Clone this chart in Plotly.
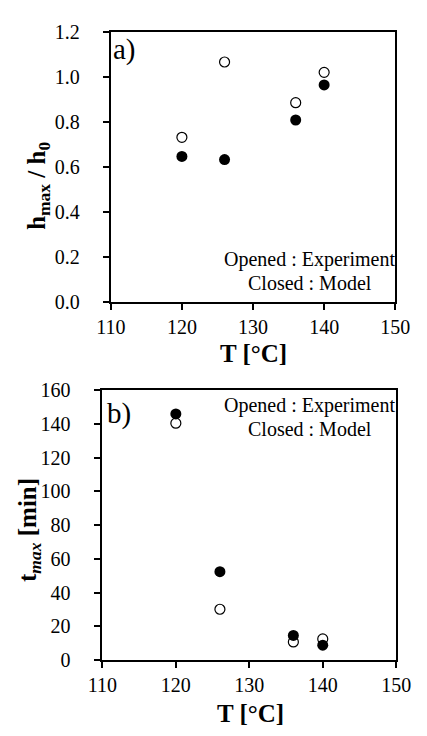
import plotly.graph_objects as go

T = [120, 126, 136, 140]
h_exp = [0.733, 1.068, 0.887, 1.022]
h_model = [0.648, 0.634, 0.810, 0.966]
t_exp = [140.5, 30.1, 10.7, 12.5]
t_model = [146.0, 52.4, 14.6, 8.8]

FONT = "Liberation Serif, Times New Roman, Times, serif"
W, H = 427, 736

fig = go.Figure()
fig.add_trace(go.Scatter(x=T, y=h_exp, mode="markers", xaxis="x", yaxis="y",
                         marker=dict(symbol="circle-open", size=10, color="black", line=dict(width=1.2))))
fig.add_trace(go.Scatter(x=T, y=h_model, mode="markers", xaxis="x", yaxis="y",
                         marker=dict(symbol="circle", size=11, color="black")))
fig.add_trace(go.Scatter(x=T, y=t_exp, mode="markers", xaxis="x2", yaxis="y2",
                         marker=dict(symbol="circle-open", size=10, color="black", line=dict(width=1.2))))
fig.add_trace(go.Scatter(x=T, y=t_model, mode="markers", xaxis="x2", yaxis="y2",
                         marker=dict(symbol="circle", size=11, color="black")))

def px_x(p):
    return p / W

def px_y(p):
    return 1 - p / H

ax_common = dict(showline=True, linecolor="black", linewidth=2, mirror=True,
                 ticks="outside", ticklen=6, tickwidth=1.5, tickcolor="black",
                 showgrid=False, zeroline=False,
                 tickfont=dict(family=FONT, size=20, color="black"))

fig.update_layout(
    width=W, height=H, margin=dict(l=0, r=0, t=0, b=0),
    font=dict(family=FONT, color="black"),
    paper_bgcolor="white", plot_bgcolor="white", showlegend=False,
    xaxis=dict(domain=[px_x(103), px_x(409)], range=[110, 150], dtick=10, anchor="y", **ax_common),
    yaxis=dict(domain=[px_y(300), px_y(22)], range=[0, 1.2], dtick=0.2, tickformat=".1f", anchor="x",
               ticklabelstandoff=19, **ax_common),
    xaxis2=dict(domain=[px_x(94), px_x(410)], range=[110, 150], dtick=10, anchor="y2", **ax_common),
    yaxis2=dict(domain=[px_y(669), px_y(391)], range=[0, 160], dtick=20, anchor="x2",
                ticklabelstandoff=20, **ax_common),
)

def ann(text, x, y, size, angle=0, xanchor="center"):
    fig.add_annotation(text=text, x=x, y=y, xref="paper", yref="paper", showarrow=False,
                       textangle=angle, xanchor=xanchor, yanchor="middle",
                       font=dict(family=FONT, size=size, color="black"))

ann("<b>h<sub>max</sub> / h<sub>0</sub></b>", px_x(25), px_y(180), 25, angle=-90)
ann("<b>T [°C]</b>", px_x(256), px_y(353), 25)
ann("<b>t<sub><i>max</i></sub> [min]</b>", px_x(15), px_y(535), 25, angle=-90)
ann("<b>T [°C]</b>", px_x(253), px_y(724), 25)

ann("a)", px_x(103), px_y(40), 29, xanchor="left")
ann("b)", px_x(97), px_y(415), 29, xanchor="left")

ann("Opened : Experiment", px_x(317), px_y(256), 20)
ann("Closed : Model", px_x(317), px_y(280), 20)
ann("Opened : Experiment", px_x(317), px_y(407), 20)
ann("Closed : Model", px_x(317), px_y(431), 20)

fig.write_html("out.html")
